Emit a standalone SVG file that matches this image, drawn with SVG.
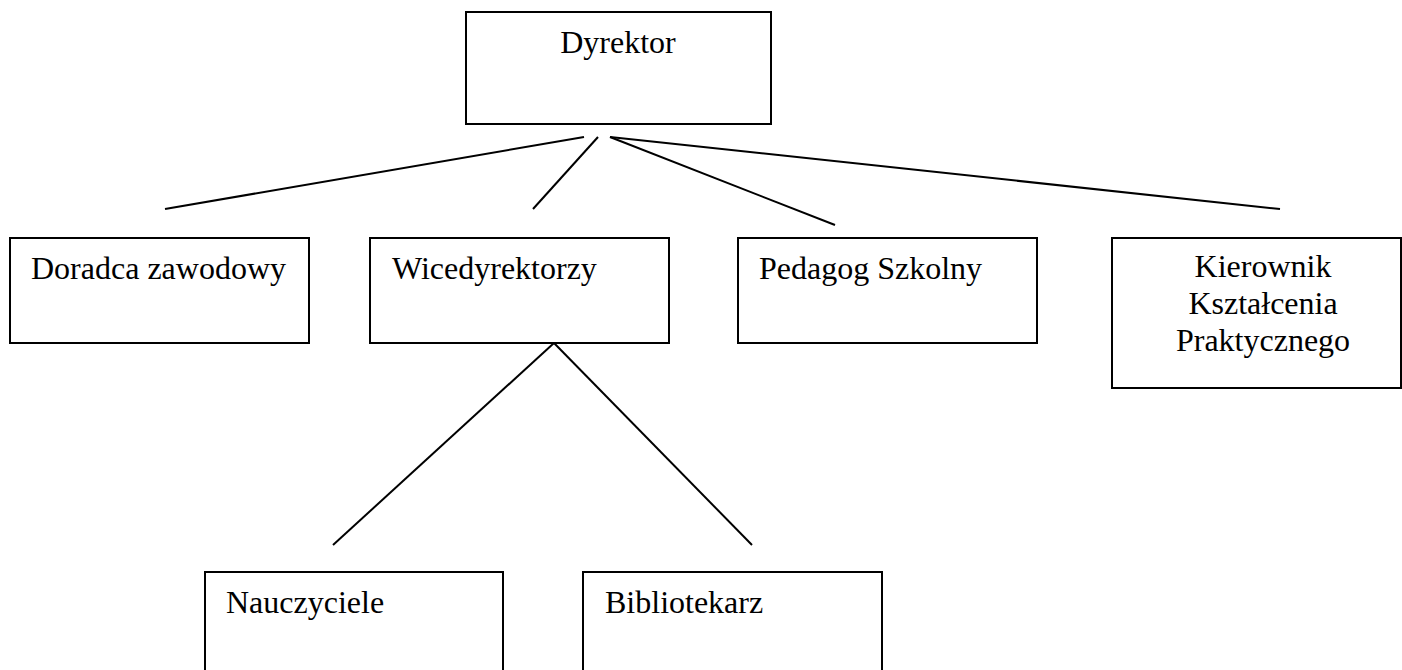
<svg xmlns="http://www.w3.org/2000/svg" width="1402" height="670" viewBox="0 0 1402 670">
<style>
.box{fill:#fff;stroke:#000;stroke-width:2}
.t{font-family:"Liberation Serif","Times New Roman",serif;font-size:32px;fill:#000}
.c{stroke:#000;stroke-width:2;fill:none}
</style>
<rect width="1402" height="670" fill="#fff"/>
<g id="connectors">
<line class="c" x1="584" y1="137" x2="165" y2="209"/>
<line class="c" x1="598" y1="137" x2="533" y2="209"/>
<line class="c" x1="610" y1="137" x2="835" y2="225"/>
<line class="c" x1="610" y1="137" x2="1280" y2="209"/>
<line class="c" x1="554" y1="343" x2="333" y2="545"/>
<line class="c" x1="554" y1="343" x2="752" y2="545"/>
</g>
<g id="dyrektor">
<rect class="box" x="466" y="12" width="305" height="112"/>
<text class="t" x="618" y="53" text-anchor="middle">Dyrektor</text>
</g>
<g id="doradca">
<rect class="box" x="10" y="238" width="299" height="105"/>
<text class="t" x="31" y="279">Doradca zawodowy</text>
</g>
<g id="wicedyrektorzy">
<rect class="box" x="370" y="238" width="299" height="105"/>
<text class="t" x="392" y="279">Wicedyrektorzy</text>
</g>
<g id="pedagog">
<rect class="box" x="738" y="238" width="299" height="105"/>
<text class="t" x="759" y="279">Pedagog Szkolny</text>
</g>
<g id="kierownik">
<rect class="box" x="1112" y="238" width="289" height="150"/>
<text class="t" x="1263" y="277" text-anchor="middle">Kierownik</text>
<text class="t" x="1263" y="314" text-anchor="middle">Kształcenia</text>
<text class="t" x="1263" y="351" text-anchor="middle">Praktycznego</text>
</g>
<g id="nauczyciele">
<rect class="box" x="205" y="572" width="298" height="110"/>
<text class="t" x="226" y="613">Nauczyciele</text>
</g>
<g id="bibliotekarz">
<rect class="box" x="583" y="572" width="299" height="110"/>
<text class="t" x="605" y="613">Bibliotekarz</text>
</g>
</svg>
